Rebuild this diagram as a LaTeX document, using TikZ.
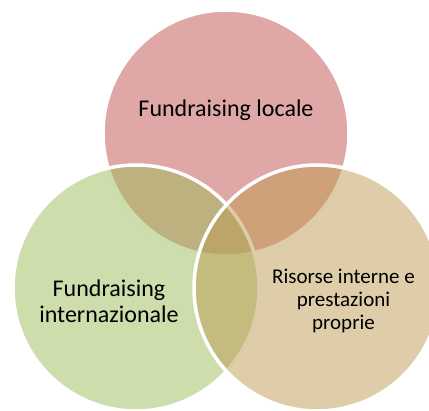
\documentclass[tikz,border=0pt]{standalone}
\usepackage{fontspec}
\setmainfont{Carlito}
\definecolor{cred}{HTML}{C0504D}
\definecolor{cgreen}{HTML}{9BBB59}
\definecolor{ctan}{HTML}{BD9B52}
\begin{document}
\begin{tikzpicture}[x=1pt,y=1pt,
  venn/.style={circle, inner sep=0pt, minimum size=246pt, fill opacity=0.5, draw=white, draw opacity=1, line width=3.5pt},
  lbl/.style={align=center, text=black, inner sep=0pt}]
\useasboundingbox (0,0) rectangle (429,411);
\clip (0,0) rectangle (429,411);
\node[venn, fill=cred] (top) at (226,278) {};
\node[venn, fill=cgreen] (left) at (136,123) {};
\node[venn, fill=ctan] (right) at (317,123) {};
\node[lbl, font=\fontsize{24}{26}\selectfont] (ttop) at (226,301) {Fundraising locale};
\node[lbl, font=\fontsize{24}{26}\selectfont] (tleft) at (109,110) {Fundraising\\internazionale};
\node[lbl, font=\fontsize{21}{23}\selectfont] (tright) at (343.5,110) {Risorse interne e\\prestazioni\\proprie};
\end{tikzpicture}
\end{document}
